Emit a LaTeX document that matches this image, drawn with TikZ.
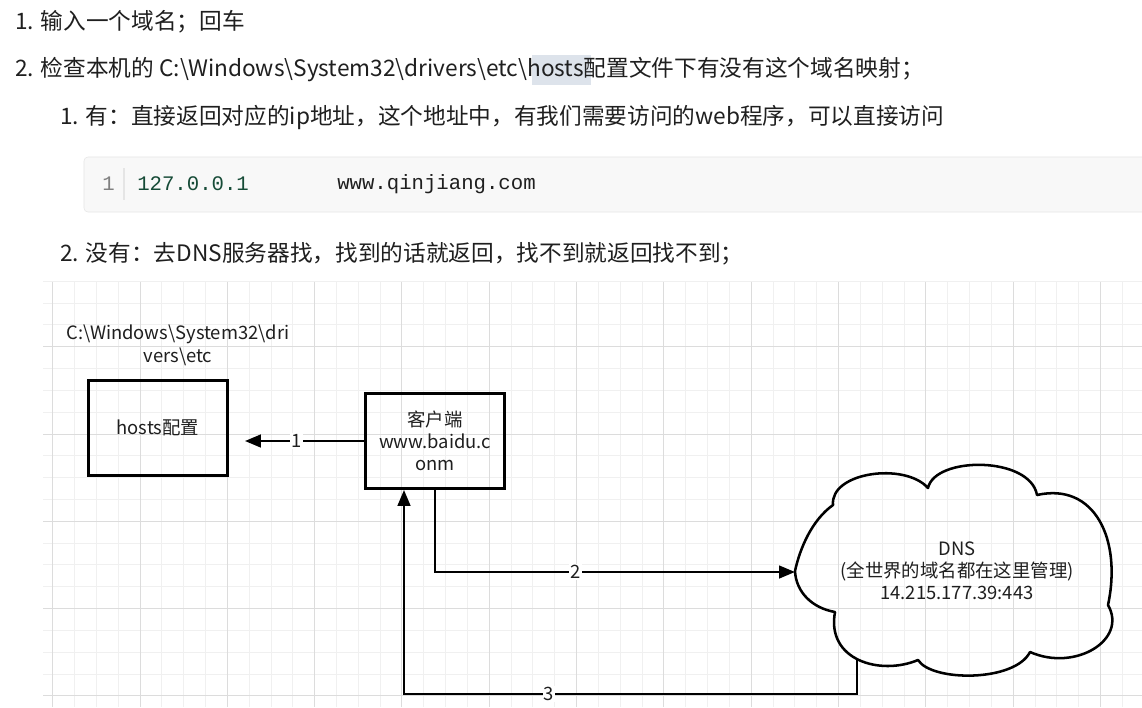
\documentclass[tikz,border=0pt]{standalone}
\usepackage{fontspec}
\setmainfont{Noto Sans CJK SC}
\newfontfamily\codefont{Liberation Mono}
\usetikzlibrary{arrows.meta,positioning}
\definecolor{gridminor}{HTML}{F0F0F0}
\definecolor{gridmajor}{HTML}{DCDCDC}
\definecolor{codebg}{HTML}{F8F8F8}
\definecolor{codeline}{HTML}{E5E5E5}
\definecolor{numgreen}{HTML}{164B37}
\definecolor{selblue}{HTML}{DDE3EB}
\definecolor{txt}{HTML}{1F1F1F}
\newcommand{\bs}{\textbackslash}
\begin{document}
\begin{tikzpicture}[x=0.75pt,y=-0.75pt,
    line/.style={anchor=west,inner sep=0pt,text=txt,font=\fontsize{17}{20}\selectfont},
    box/.style={draw=black,line width=2.4pt,minimum width=104pt,minimum height=71pt,align=center,text=txt,font=\fontsize{13.8}{16.5}\selectfont},
    flow/.style={line width=1.9pt,-{Triangle[length=12pt,width=9.5pt]}},
    num/.style={fill=white,inner sep=1pt,text=txt,font=\fontsize{13.8}{16}\selectfont}]
    \useasboundingbox (0,0) rectangle (1142,707);
    \fill[white] (0,0) rectangle (1142,707);
    % grid
    \foreach \i in {0,...,49}
        \draw[gridminor,line width=0.75pt] ({52.7+21.83*\i},281.5) -- ({52.7+21.83*\i},707);
    \foreach \j in {0,...,19}
        \draw[gridminor,line width=0.75pt] (43,{281.2+21.83*\j}) -- (1142,{281.2+21.83*\j});
    \foreach \i in {0,...,12}
        \draw[gridmajor,line width=0.75pt] ({52.7+87.32*\i},281.5) -- ({52.7+87.32*\i},707);
    \foreach \j in {0,...,4}
        \draw[gridmajor,line width=0.75pt] (43,{346.7+87.32*\j}) -- (1142,{346.7+87.32*\j});
    % notes
    \node[line] (step1) at (15,22) {1. 输入一个域名；回车};
    \fill[selblue] (532,55) rectangle (591,85);
    \node[line] (step2) at (15,70) {2. 检查本机的 C:\bs Windows\bs System32\bs drivers\bs etc\bs hosts配置文件下有没有这个域名映射；};
    \node[line] (yes) at (60,117) {1. 有：直接返回对应的ip地址，这个地址中，有我们需要访问的web程序，可以直接访问};
    \draw[codeline,fill=codebg,rounded corners=3pt] (84,157) rectangle (1160,212);
    \draw[codeline,line width=1pt] (124,168) -- (124,200);
    \node[anchor=west,inner sep=0pt,text=gray,font=\codefont\fontsize{15.5}{18}\selectfont] (lineno) at (102,184) {1};
    \node[anchor=west,inner sep=0pt,text=numgreen,font=\codefont\fontsize{15.5}{18}\selectfont] (ip) at (137,184) {127.0.0.1};
    \node[anchor=west,inner sep=0pt,text=txt,font=\codefont\fontsize{15.5}{18}\selectfont] (site) at (337,184) {www.qinjiang.com};
    \node[line] (no) at (60,254) {2. 没有：去DNS服务器找，找到的话就返回，找不到就返回找不到；};
    % diagram
    \node[align=center,text=txt,font=\fontsize{13.8}{17}\selectfont] (hostpath) at (178,345) {C:\bs Windows\bs System32\bs dri\\vers\bs etc};
    \node[box] (hosts) at (158,428) {hosts配置};
    \node[box] (client) at (435,441) {客户端\\www.baidu.c\\onm};
    % cloud
    \draw[line width=1.9pt,line join=round] (795,571)
        .. controls (800,548) and (812,520) .. (833,505)
        .. controls (830,472) and (905,462) .. (928,488)
        .. controls (935,456) and (1030,456) .. (1037,495)
        .. controls (1095,482) and (1122,540) .. (1108,605)
        .. controls (1128,640) and (1075,672) .. (1030,652)
        .. controls (1015,682) and (932,682) .. (918,660)
        .. controls (880,676) and (826,660) .. (835,612)
        .. controls (812,608) and (796,592) .. (795,571) -- cycle;
    \node[align=center,text=txt,font=\fontsize{13.8}{16.5}\selectfont] (dns) at (957,571) {DNS\\(全世界的域名都在这里管理)\\14.215.177.39:443};
    \coordinate (dnsin) at (795,572);
    \coordinate (dnsfoot) at (857,659);
    \coordinate (turn) at (404,694);
    \draw[flow,shorten >=12pt] (client.west) -- node[num] {1} (client.west -| hosts.east);
    \draw[flow] (client.south) |- node[num,pos=0.695] {2} (dnsin);
    \draw[flow] (dnsfoot) |- node[num,pos=0.84] {3} (turn) -- (turn |- client.south);
\end{tikzpicture}
\end{document}
